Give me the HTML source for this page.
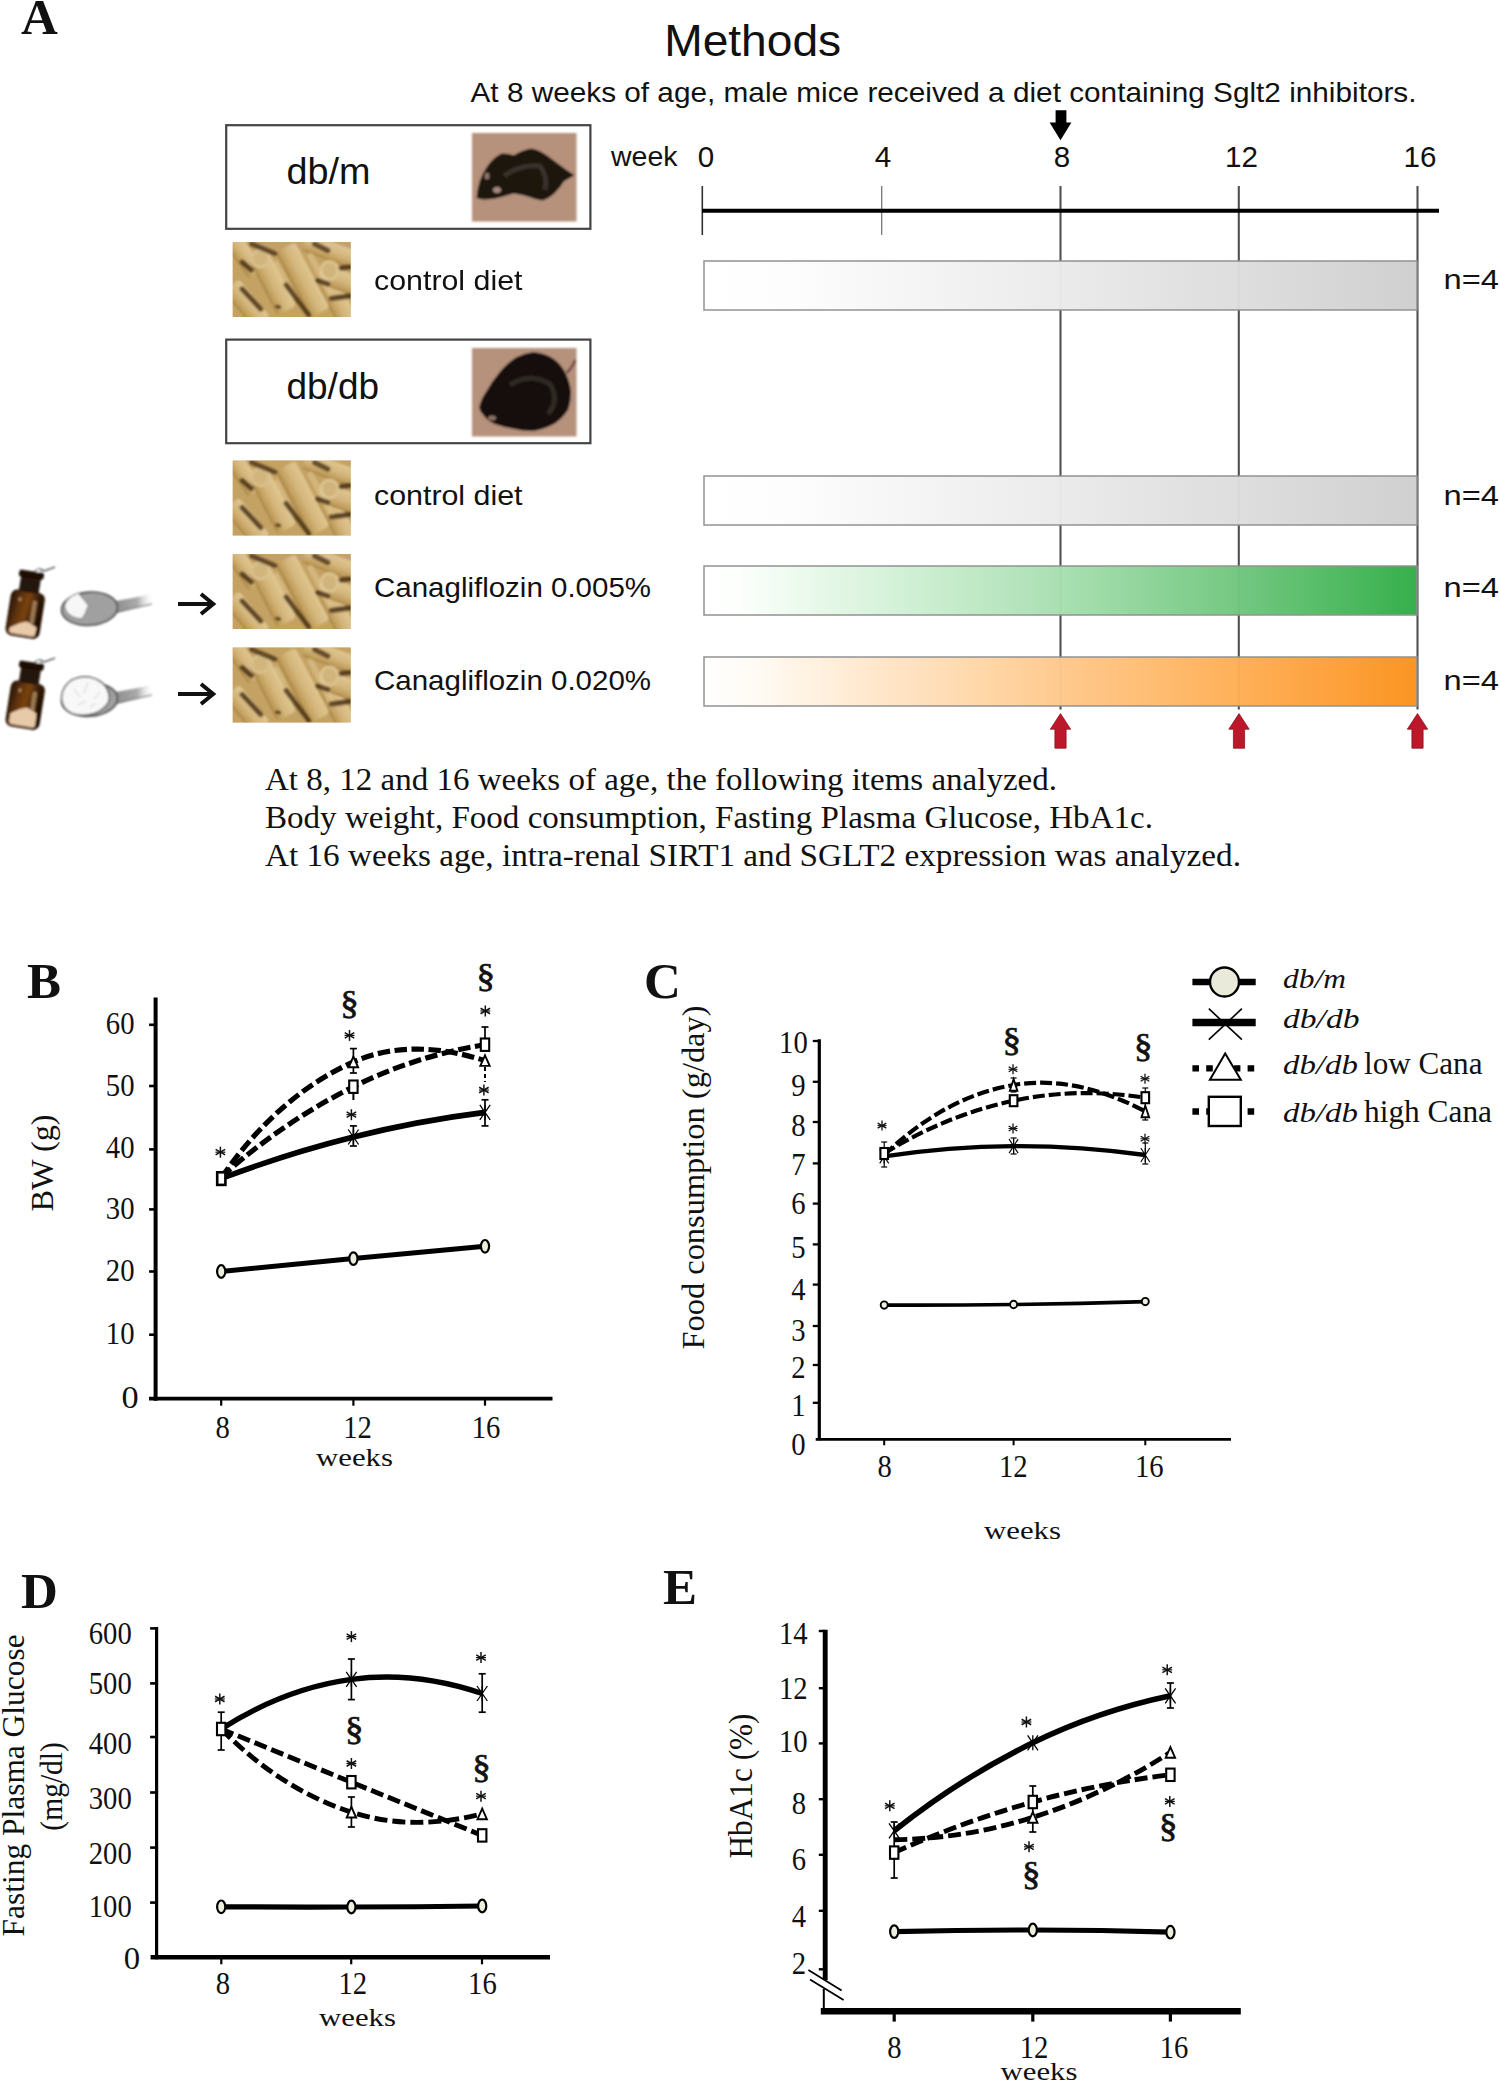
<!DOCTYPE html>
<html><head><meta charset="utf-8"><title>Figure</title>
<style>html,body{margin:0;padding:0;background:#fff;}body{width:1500px;height:2082px;overflow:hidden;font-family:"Liberation Serif",serif;}svg{display:block;}</style>
</head><body>
<svg width="1500" height="2082" viewBox="0 0 1500 2082">
<defs>
<linearGradient id="gGray" x1="0" x2="1" y1="0" y2="0"><stop offset="0" stop-color="#ffffff"/><stop offset="0.12" stop-color="#fdfdfd"/><stop offset="0.5" stop-color="#ebebeb"/><stop offset="1" stop-color="#cfcfcf"/></linearGradient>
<linearGradient id="gGreen" x1="0" x2="1" y1="0" y2="0"><stop offset="0" stop-color="#ffffff"/><stop offset="0.05" stop-color="#fcfffc"/><stop offset="0.25" stop-color="#d6f3da"/><stop offset="0.5" stop-color="#a8dfb0"/><stop offset="0.75" stop-color="#70c77e"/><stop offset="1" stop-color="#30ad46"/></linearGradient>
<linearGradient id="gOrange" x1="0" x2="1" y1="0" y2="0"><stop offset="0" stop-color="#ffffff"/><stop offset="0.08" stop-color="#fffaf2"/><stop offset="0.25" stop-color="#ffe6c8"/><stop offset="0.5" stop-color="#ffc98c"/><stop offset="0.75" stop-color="#ffae54"/><stop offset="1" stop-color="#fb921c"/></linearGradient>
<linearGradient id="gBottle" x1="0" x2="1" y1="0" y2="0.2"><stop offset="0" stop-color="#231105"/><stop offset="0.3" stop-color="#5c310a"/><stop offset="0.55" stop-color="#7a4411"/><stop offset="0.8" stop-color="#3c1f08"/><stop offset="1" stop-color="#1e0f04"/></linearGradient>
<linearGradient id="gHandle" x1="0" x2="1" y1="0" y2="0"><stop offset="0" stop-color="#8a8a8a"/><stop offset="0.6" stop-color="#aaaaaa"/><stop offset="1" stop-color="#ffffff" stop-opacity="0"/></linearGradient>
<linearGradient id="gPel" x1="0" x2="0" y1="0" y2="1"><stop offset="0" stop-color="#e0c690"/><stop offset="0.5" stop-color="#d4b67c"/><stop offset="0.88" stop-color="#bf9c5a"/><stop offset="1" stop-color="#a07c3c"/></linearGradient>
<filter id="blur1" x="-5%" y="-5%" width="110%" height="110%"><feGaussianBlur stdDeviation="1.3"/></filter>
<filter id="blur2" x="-10%" y="-10%" width="120%" height="120%"><feGaussianBlur stdDeviation="0.8"/></filter>
<clipPath id="pelclip"><rect x="0" y="0" width="118" height="75"/></clipPath>
<g id="pellets">
 <g clip-path="url(#pelclip)">
 <rect x="0" y="0" width="118" height="75" fill="#c2a062"/>
 <g filter="url(#blur1)">
  <rect x="-10" y="-10" width="140" height="95" fill="#c4a264"/>
  <g transform="translate(10,12) rotate(55)"><rect x="-24" y="-9" width="48" height="18" rx="4" fill="url(#gPel)"/></g>
  <g transform="translate(104,58) rotate(62)"><rect x="-30" y="-10" width="60" height="20" rx="4" fill="url(#gPel)"/></g>
  <g transform="translate(100,10) rotate(20)"><rect x="-30" y="-9" width="60" height="18" rx="4" fill="url(#gPel)"/></g>
  <g transform="translate(14,62) rotate(50)"><rect x="-24" y="-10" width="48" height="20" rx="4" fill="url(#gPel)"/></g>
  
  
  <g transform="translate(40,41) rotate(63)"><rect x="-31" y="-10.5" width="62" height="21" rx="4" fill="url(#gPel)"/></g>
  <path d="M9.5,47 L28,67" stroke="#4a2e10" stroke-width="3.6" fill="none" opacity="0.25"/>
  <path d="M9.5,20 L18.5,28" stroke="#4a2e10" stroke-width="4" fill="none" opacity="0.25"/>
  <g transform="translate(70,38) rotate(62)"><rect x="-37" y="-11" width="74" height="22" rx="4" fill="url(#gPel)"/></g>
  <path d="M53.5,43 L76,73" stroke="#4a2e10" stroke-width="3.6" fill="none" opacity="0.25"/>
  <path d="M42.8,64 L48,65.5" stroke="#4a2e10" stroke-width="3.5" fill="none" opacity="0.8"/>
  <ellipse cx="27.5" cy="16.7" rx="10" ry="10" fill="#d9c08c"/>
  <ellipse cx="27.5" cy="16.7" rx="7" ry="7" fill="#d2b57c"/>
  <g transform="translate(112,40) rotate(20)"><rect x="-16" y="-10" width="40" height="20" rx="4" fill="url(#gPel)"/></g>
  <ellipse cx="96.8" cy="28.4" rx="10" ry="10.5" fill="#dcc38f"/>
  <ellipse cx="96.8" cy="28.4" rx="7" ry="7.5" fill="#d0b47c"/>
  <path d="M85,38 L95,41.5" stroke="#4a2e10" stroke-width="3.6" fill="none" opacity="0.25"/>
  <path d="M108.5,25.7 L117,24.8" stroke="#4a2e10" stroke-width="3.6" fill="none" opacity="0.25"/>
  <path d="M98.6,56 L117,53.6" stroke="#4a2e10" stroke-width="4" fill="none" opacity="0.25"/>
  
  <path d="M44,22 L60,54 M78,14 L100,56" stroke="#e6cf9c" stroke-width="6" stroke-linecap="round" fill="none" opacity="0.45"/>
  <path d="M19,2 L42,11.5 M82,2 L95,8.5 M9.5,20 L18.5,28 M9.5,47 L28,67 M53.5,43 L76,73 M85,38.5 L95,42 M108.5,26 L117,25 M98.6,56.5 L117,54" stroke="#3a220a" stroke-width="5.4" stroke-linecap="round" fill="none" opacity="0.7"/>
 </g>
 </g>
</g>
<g id="bottle">
  <g transform="rotate(9)">
   <rect x="-10" y="-39" width="20" height="18" rx="2" fill="#24130a"/>
   <rect x="-12.5" y="-43.5" width="25" height="7" rx="2.5" fill="#1a0d06"/>
   <rect x="-16.5" y="-22.5" width="33" height="45" rx="6" fill="url(#gBottle)"/>
   <rect x="-16.5" y="-22.5" width="33" height="45" rx="6" fill="none" stroke="#2a1406" stroke-width="1.5"/>
   <rect x="5.5" y="-15" width="4.5" height="24" rx="2" fill="#e2bd8c" opacity="0.55"/>
   <rect x="-9" y="-16" width="3" height="4" rx="1.5" fill="#e2bd8c" opacity="0.6"/>
  </g>
</g>
<g id="redarrow"><path d="M0,0 L10.2,15.6 L5.6,15.6 L5.6,34.6 L-5.6,34.6 L-5.6,15.6 L-10.2,15.6 Z" fill="#bd172b" stroke="#8e1422" stroke-width="0.8"/></g>
</defs>
<rect width="1500" height="2082" fill="#fff"/>
<text transform="translate(21.00,33.50)" font-family='"Liberation Serif", serif' font-size="51" font-weight="bold" font-style="normal" text-anchor="start" fill="#111" >A</text>
<text transform="translate(664.20,55.50)" font-family='"Liberation Sans", sans-serif' font-size="44.5" font-weight="normal" font-style="normal" text-anchor="start" fill="#111" textLength="177" lengthAdjust="spacingAndGlyphs">Methods</text>
<text transform="translate(470.50,102.00)" font-family='"Liberation Sans", sans-serif' font-size="27.6" font-weight="normal" font-style="normal" text-anchor="start" fill="#111" textLength="946" lengthAdjust="spacingAndGlyphs">At 8 weeks of age, male mice received a diet containing Sglt2 inhibitors.</text>
<rect x="226.2" y="125.2" width="364.2" height="103.6" fill="#fff" stroke="#444" stroke-width="2.2"/>
<text transform="translate(286.50,184.40)" font-family='"Liberation Sans", sans-serif' font-size="36.5" font-weight="normal" font-style="normal" text-anchor="start" fill="#111" textLength="84" lengthAdjust="spacingAndGlyphs">db/m</text>
<rect x="226.2" y="339.6" width="364.2" height="103.6" fill="#fff" stroke="#444" stroke-width="2.2"/>
<text transform="translate(286.50,398.80)" font-family='"Liberation Sans", sans-serif' font-size="36.5" font-weight="normal" font-style="normal" text-anchor="start" fill="#111" textLength="92.5" lengthAdjust="spacingAndGlyphs">db/db</text>
<g filter="url(#blur1)">
<rect x="472" y="133" width="104.5" height="88.5" fill="#b6917b"/>
<path d="M476.5,197.8 Q478,180 486,168.3 Q492,158 501.6,153.6 Q508,153 513.7,155.3 Q522,150 531,148.4 Q540,150 546.7,155.3 L566.6,170 L574.4,175.3 L564,181.3 Q560,188 555.3,192.6 Q549,199 542.3,200.4 Q535,199.5 529.3,197 Q521,194 513.7,193.5 Q507,195 501.6,197 Q494,199 486,199.5 Q480,200 476.5,197.8 Z" fill="#1b1511"/>
<path d="M504,176 Q520,164 540,166 Q548,176 545,190" stroke="#3e3833" stroke-width="5" fill="none" opacity="0.8"/>
<ellipse cx="497" cy="190" rx="4" ry="3" fill="#c9a69a" opacity="0.8"/>
<ellipse cx="487" cy="176" rx="2.5" ry="3.5" fill="#a88a7c" opacity="0.8"/>
<rect x="472" y="348" width="104.5" height="88.5" fill="#b6917b"/>
<path d="M566.6,373 Q572,368 575.3,360" stroke="#6a4a40" stroke-width="2.5" fill="none"/>
<path d="M479.1,407.6 Q481,399 486,392 Q492,381 499,372.9 Q507,363 516.3,357.3 Q525,353 533.7,352.1 Q543,353 551,357.3 Q559,362 564,370.3 Q570,381 571,392 Q571,401 568.3,409.3 Q563,418 555.3,423.2 Q545,429 533.7,431 Q522,431 512,428.4 Q503,427 494.7,424 Q488,421 484.3,416.3 Q480,412 479.1,407.6 Z" fill="#15110d"/>
<path d="M510,385 Q530,372 550,384 Q560,400 548,414" stroke="#34302b" stroke-width="5" fill="none" opacity="0.8"/>
<ellipse cx="492" cy="418" rx="4" ry="2.5" fill="#c09a88" opacity="0.7"/>
</g>
<use href="#pellets" x="232.7" y="242"/>
<use href="#pellets" x="232.7" y="460.5"/>
<use href="#pellets" x="232.7" y="554"/>
<use href="#pellets" x="232.7" y="647.5"/>
<text transform="translate(374.00,290.00)" font-family='"Liberation Sans", sans-serif' font-size="28.3" font-weight="normal" font-style="normal" text-anchor="start" fill="#111" textLength="148.5" lengthAdjust="spacingAndGlyphs">control diet</text>
<text transform="translate(374.00,505.00)" font-family='"Liberation Sans", sans-serif' font-size="28.3" font-weight="normal" font-style="normal" text-anchor="start" fill="#111" textLength="148.5" lengthAdjust="spacingAndGlyphs">control diet</text>
<text transform="translate(374.00,597.00)" font-family='"Liberation Sans", sans-serif' font-size="28.3" font-weight="normal" font-style="normal" text-anchor="start" fill="#111" textLength="277" lengthAdjust="spacingAndGlyphs">Canagliflozin 0.005%</text>
<text transform="translate(374.00,690.00)" font-family='"Liberation Sans", sans-serif' font-size="28.3" font-weight="normal" font-style="normal" text-anchor="start" fill="#111" textLength="277" lengthAdjust="spacingAndGlyphs">Canagliflozin 0.020%</text>
<g transform="translate(0,0)">
<g filter="url(#blur2)">
<path d="M33,574 Q38,566 44,571 Q50,569 55,567" stroke="#666" stroke-width="1.6" fill="none"/>
<circle cx="38.5" cy="571.5" r="2.6" fill="#fff" stroke="#777" stroke-width="1"/>
<use href="#bottle" x="25.2" y="614.2"/>
<path d="M10.5,627 L20,623 L27,621.5 L36.5,627.5 L35.2,634 Q34.6,637 31.5,636.6 L11.5,633 Q8.8,632.4 9.2,629.5 Z" fill="#e8c9a8"/>
<path d="M112,601.5 Q130,599 153,593.5 L154,603.5 Q132,608.5 114,613 Z" fill="url(#gHandle)"/>
<path d="M114,613 Q132,608.5 152,603.8" stroke="#555" stroke-width="1.3" fill="none" opacity="0.7"/>
<ellipse cx="89.5" cy="608.7" rx="28" ry="16.5" transform="rotate(-4 89.5 608.7)" fill="#a0a0a0" stroke="#555" stroke-width="1.8"/>
<path d="M64.6,606 Q66,598 78.2,592.9 L88.4,605.3 Q86,614 81.6,618.9 Q76,618.5 72.5,616.7 Q65,612 64.6,606 Z" fill="#f7f7f7" stroke="#777" stroke-width="1"/>
</g>
<line x1="178.00" y1="604.00" x2="211.50" y2="604.00" stroke="#111" stroke-width="4" />
<path d="M201,594 L213.2,604 L201,614" fill="none" stroke="#111" stroke-width="4"/>
</g>
<g transform="translate(0,91)">
<g filter="url(#blur2)">
<path d="M33,574 Q38,566 44,571 Q50,569 55,567" stroke="#666" stroke-width="1.6" fill="none"/>
<circle cx="38.5" cy="571.5" r="2.6" fill="#fff" stroke="#777" stroke-width="1"/>
<use href="#bottle" x="25.2" y="614.2"/>
<path d="M10.5,622 L20,618 L27,616.5 L36.5,622.5 L35.2,634 Q34.6,637 31.5,636.6 L11.5,633 Q8.8,632.4 9.2,629.5 Z" fill="#e8c9a8"/>
<path d="M112,601.5 Q130,599 153,593.5 L154,603.5 Q132,608.5 114,613 Z" fill="url(#gHandle)"/>
<path d="M114,613 Q132,608.5 152,603.8" stroke="#555" stroke-width="1.3" fill="none" opacity="0.7"/>
<ellipse cx="89.5" cy="608.7" rx="28" ry="16.5" transform="rotate(-4 89.5 608.7)" fill="#a0a0a0" stroke="#555" stroke-width="1.8"/>
<path d="M61.5,607 Q62,596 71,589.5 Q80,584.5 89,586 Q100,588 106,596 Q111,604 108.5,611 Q104,619 94,622.5 Q82,626 72,622.5 Q62,618 61.5,607 Z" fill="#f8f8f8" stroke="#5a5a5a" stroke-width="1.5"/>
<path d="M74,598 L80,606 M88,592 L84,602 M94,608 L100,601 M78,614 L86,610 M90,616 L95,613" stroke="#cfcfcf" stroke-width="1" fill="none"/>
</g>
<line x1="178.00" y1="603.00" x2="211.50" y2="603.00" stroke="#111" stroke-width="4" />
<path d="M201,593 L213.2,603 L201,613" fill="none" stroke="#111" stroke-width="4"/>
</g>
<text transform="translate(611.00,166.00)" font-family='"Liberation Sans", sans-serif' font-size="28.3" font-weight="normal" font-style="normal" text-anchor="start" fill="#111" textLength="66.5" lengthAdjust="spacingAndGlyphs">week</text>
<text transform="translate(706.00,166.80)" font-family='"Liberation Sans", sans-serif' font-size="29.6" font-weight="normal" font-style="normal" text-anchor="middle" fill="#111" >0</text>
<text transform="translate(883.00,166.80)" font-family='"Liberation Sans", sans-serif' font-size="29.6" font-weight="normal" font-style="normal" text-anchor="middle" fill="#111" >4</text>
<text transform="translate(1062.00,166.80)" font-family='"Liberation Sans", sans-serif' font-size="29.6" font-weight="normal" font-style="normal" text-anchor="middle" fill="#111" >8</text>
<text transform="translate(1241.50,166.80)" font-family='"Liberation Sans", sans-serif' font-size="29.6" font-weight="normal" font-style="normal" text-anchor="middle" fill="#111" >12</text>
<text transform="translate(1420.00,166.80)" font-family='"Liberation Sans", sans-serif' font-size="29.6" font-weight="normal" font-style="normal" text-anchor="middle" fill="#111" >16</text>
<line x1="702.30" y1="186.00" x2="702.30" y2="235.00" stroke="#333" stroke-width="1.6" />
<line x1="881.70" y1="186.00" x2="881.70" y2="235.00" stroke="#777" stroke-width="1.3" />
<line x1="1060.50" y1="186.00" x2="1060.50" y2="709.50" stroke="#505050" stroke-width="2.1" />
<line x1="1238.80" y1="186.00" x2="1238.80" y2="709.50" stroke="#505050" stroke-width="2.1" />
<line x1="1417.50" y1="186.00" x2="1417.50" y2="709.50" stroke="#505050" stroke-width="2.1" />
<line x1="702.00" y1="210.70" x2="1439.00" y2="210.70" stroke="#000" stroke-width="4" />
<rect x="704" y="261" width="713" height="49" fill="url(#gGray)" stroke="#8f8f8f" stroke-width="1.5" opacity="0.97"/>
<rect x="704" y="476" width="713" height="49" fill="url(#gGray)" stroke="#8f8f8f" stroke-width="1.5" opacity="0.97"/>
<rect x="704" y="566" width="713" height="49" fill="url(#gGreen)" stroke="#8f8f8f" stroke-width="1.5" opacity="0.97"/>
<rect x="704" y="657" width="713" height="49" fill="url(#gOrange)" stroke="#8f8f8f" stroke-width="1.5" opacity="0.97"/>
<text transform="translate(1443.50,289.00)" font-family='"Liberation Sans", sans-serif' font-size="27.3" font-weight="normal" font-style="normal" text-anchor="start" fill="#111" textLength="55.5" lengthAdjust="spacingAndGlyphs">n=4</text>
<text transform="translate(1443.50,505.00)" font-family='"Liberation Sans", sans-serif' font-size="27.3" font-weight="normal" font-style="normal" text-anchor="start" fill="#111" textLength="55.5" lengthAdjust="spacingAndGlyphs">n=4</text>
<text transform="translate(1443.50,597.00)" font-family='"Liberation Sans", sans-serif' font-size="27.3" font-weight="normal" font-style="normal" text-anchor="start" fill="#111" textLength="55.5" lengthAdjust="spacingAndGlyphs">n=4</text>
<text transform="translate(1443.50,690.00)" font-family='"Liberation Sans", sans-serif' font-size="27.3" font-weight="normal" font-style="normal" text-anchor="start" fill="#111" textLength="55.5" lengthAdjust="spacingAndGlyphs">n=4</text>
<path d="M1055.6,110.2 L1066.4,110.2 L1066.4,122.5 L1071.4,122.5 L1060.5,140.2 L1049.6,122.5 L1055.6,122.5 Z" fill="#000"/>
<use href="#redarrow" x="1060.5" y="713.6"/>
<use href="#redarrow" x="1239" y="713.6"/>
<use href="#redarrow" x="1417.5" y="713.6"/>
<text transform="translate(265.00,789.50)" font-family='"Liberation Serif", serif' font-size="30.5" font-weight="normal" font-style="normal" text-anchor="start" fill="#111" textLength="792" lengthAdjust="spacingAndGlyphs">At 8, 12 and 16 weeks of age, the following items analyzed.</text>
<text transform="translate(265.00,827.60)" font-family='"Liberation Serif", serif' font-size="30.5" font-weight="normal" font-style="normal" text-anchor="start" fill="#111" textLength="888" lengthAdjust="spacingAndGlyphs">Body weight, Food consumption, Fasting Plasma Glucose, HbA1c.</text>
<text transform="translate(265.00,865.60)" font-family='"Liberation Serif", serif' font-size="30.5" font-weight="normal" font-style="normal" text-anchor="start" fill="#111" textLength="976" lengthAdjust="spacingAndGlyphs">At 16 weeks age, intra-renal SIRT1 and SGLT2 expression was analyzed.</text>
<text transform="translate(27.00,998.00)" font-family='"Liberation Serif", serif' font-size="51" font-weight="bold" font-style="normal" text-anchor="start" fill="#111" >B</text>
<line x1="155.60" y1="997.50" x2="155.60" y2="1400.70" stroke="#000" stroke-width="4" />
<line x1="149.00" y1="1398.70" x2="552.50" y2="1398.70" stroke="#000" stroke-width="3.8" />
<line x1="149.10" y1="1024.80" x2="155.60" y2="1024.80" stroke="#000" stroke-width="2.6" />
<text transform="translate(134.50,1033.65) scale(0.92,1)" font-family='"Liberation Serif", serif' font-size="31.2" font-weight="normal" font-style="normal" text-anchor="end" fill="#111" >60</text>
<line x1="149.10" y1="1086.00" x2="155.60" y2="1086.00" stroke="#000" stroke-width="2.6" />
<text transform="translate(134.50,1095.85) scale(0.92,1)" font-family='"Liberation Serif", serif' font-size="31.2" font-weight="normal" font-style="normal" text-anchor="end" fill="#111" >50</text>
<line x1="149.10" y1="1149.40" x2="155.60" y2="1149.40" stroke="#000" stroke-width="2.6" />
<text transform="translate(134.50,1158.15) scale(0.92,1)" font-family='"Liberation Serif", serif' font-size="31.2" font-weight="normal" font-style="normal" text-anchor="end" fill="#111" >40</text>
<line x1="149.10" y1="1209.40" x2="155.60" y2="1209.40" stroke="#000" stroke-width="2.6" />
<text transform="translate(134.50,1219.05) scale(0.92,1)" font-family='"Liberation Serif", serif' font-size="31.2" font-weight="normal" font-style="normal" text-anchor="end" fill="#111" >30</text>
<line x1="149.10" y1="1271.50" x2="155.60" y2="1271.50" stroke="#000" stroke-width="2.6" />
<text transform="translate(134.50,1281.05) scale(0.92,1)" font-family='"Liberation Serif", serif' font-size="31.2" font-weight="normal" font-style="normal" text-anchor="end" fill="#111" >20</text>
<line x1="149.10" y1="1334.70" x2="155.60" y2="1334.70" stroke="#000" stroke-width="2.6" />
<text transform="translate(134.50,1344.25) scale(0.92,1)" font-family='"Liberation Serif", serif' font-size="31.2" font-weight="normal" font-style="normal" text-anchor="end" fill="#111" >10</text>
<text transform="translate(138.60,1407.85) scale(1.1,1)" font-family='"Liberation Serif", serif' font-size="31.2" font-weight="normal" font-style="normal" text-anchor="end" fill="#111" >0</text>
<line x1="221.20" y1="1398.70" x2="221.20" y2="1405.70" stroke="#000" stroke-width="2.2" />
<line x1="353.40" y1="1398.70" x2="353.40" y2="1405.70" stroke="#000" stroke-width="2.2" />
<line x1="485.00" y1="1398.70" x2="485.00" y2="1405.70" stroke="#000" stroke-width="2.2" />
<text transform="translate(222.70,1438.00) scale(0.92,1)" font-family='"Liberation Serif", serif' font-size="31.2" font-weight="normal" font-style="normal" text-anchor="middle" fill="#111" >8</text>
<text transform="translate(357.50,1438.00) scale(0.92,1)" font-family='"Liberation Serif", serif' font-size="31.2" font-weight="normal" font-style="normal" text-anchor="middle" fill="#111" >12</text>
<text transform="translate(486.00,1438.00) scale(0.92,1)" font-family='"Liberation Serif", serif' font-size="31.2" font-weight="normal" font-style="normal" text-anchor="middle" fill="#111" >16</text>
<text transform="translate(316.00,1466.00) scale(1,0.9)" font-family='"Liberation Serif", serif' font-size="29" font-weight="normal" font-style="normal" text-anchor="start" fill="#111" textLength="77" lengthAdjust="spacingAndGlyphs">weeks</text>
<text transform="translate(53.00,1163.00) rotate(-90)" font-family='"Liberation Serif", serif' font-size="32.3" font-weight="normal" font-style="normal" text-anchor="middle" fill="#111" >BW (g)</text>
<path d="M221.20,1178.00 Q277.95,1095.58 353.40,1062.00 Q409.85,1036.88 485.00,1060.60" fill="none" stroke="#000" stroke-width="5.2" stroke-dasharray="12.5 4.5" stroke-linecap="butt"/>
<path d="M221.20,1177.00 Q282.59,1122.21 353.40,1086.70 Q414.49,1056.06 485.00,1044.70" fill="none" stroke="#000" stroke-width="5.2" stroke-dasharray="12.5 4.5" stroke-linecap="butt"/>
<path d="M221.20,1178.50 Q286.32,1153.81 353.40,1137.00 Q418.22,1120.76 485.00,1112.40" fill="none" stroke="#000" stroke-width="5.6"  stroke-linecap="butt"/>
<path d="M221.20,1271.50 Q287.29,1264.92 353.40,1258.60 Q419.19,1252.32 485.00,1246.30" fill="none" stroke="#000" stroke-width="5.0"  stroke-linecap="butt"/>
<line x1="353.40" y1="1048.60" x2="353.40" y2="1073.00" stroke="#000" stroke-width="1.7" />
<line x1="349.90" y1="1048.60" x2="356.90" y2="1048.60" stroke="#000" stroke-width="1.7" />
<line x1="349.90" y1="1073.00" x2="356.90" y2="1073.00" stroke="#000" stroke-width="1.7" />
<line x1="353.40" y1="1125.90" x2="353.40" y2="1146.00" stroke="#000" stroke-width="1.7" />
<line x1="349.90" y1="1125.90" x2="356.90" y2="1125.90" stroke="#000" stroke-width="1.7" />
<line x1="349.90" y1="1146.00" x2="356.90" y2="1146.00" stroke="#000" stroke-width="1.7" />
<line x1="485.00" y1="1027.00" x2="485.00" y2="1044.00" stroke="#000" stroke-width="1.7" />
<line x1="481.50" y1="1027.00" x2="488.50" y2="1027.00" stroke="#000" stroke-width="1.7" />
<line x1="481.50" y1="1044.00" x2="488.50" y2="1044.00" stroke="#000" stroke-width="1.7" />
<line x1="485.00" y1="1099.80" x2="485.00" y2="1125.90" stroke="#000" stroke-width="1.7" />
<line x1="481.50" y1="1099.80" x2="488.50" y2="1099.80" stroke="#000" stroke-width="1.7" />
<line x1="481.50" y1="1125.90" x2="488.50" y2="1125.90" stroke="#000" stroke-width="1.7" />
<line x1="353.40" y1="1093.00" x2="353.40" y2="1100.00" stroke="#000" stroke-width="2" />
<line x1="485.00" y1="1067.00" x2="485.00" y2="1082.00" stroke="#000" stroke-width="2" stroke-dasharray="4 3"/>
<ellipse cx="221.20" cy="1271.50" rx="4.1" ry="6.3" fill="#eeeedd" stroke="#000" stroke-width="2.2"/>
<ellipse cx="353.40" cy="1258.60" rx="4.1" ry="6.3" fill="#eeeedd" stroke="#000" stroke-width="2.2"/>
<ellipse cx="485.00" cy="1246.30" rx="4.1" ry="6.3" fill="#eeeedd" stroke="#000" stroke-width="2.2"/>
<line x1="348.20" y1="1129.50" x2="358.60" y2="1144.50" stroke="#000" stroke-width="1.3" />
<line x1="348.20" y1="1144.50" x2="358.60" y2="1129.50" stroke="#000" stroke-width="1.3" />
<line x1="353.40" y1="1129.50" x2="353.40" y2="1144.50" stroke="#000" stroke-width="1.3" />
<line x1="479.80" y1="1104.90" x2="490.20" y2="1119.90" stroke="#000" stroke-width="1.3" />
<line x1="479.80" y1="1119.90" x2="490.20" y2="1104.90" stroke="#000" stroke-width="1.3" />
<line x1="485.00" y1="1104.90" x2="485.00" y2="1119.90" stroke="#000" stroke-width="1.3" />
<path d="M353.40,1056.70 L358.10,1067.30 L348.70,1067.30 Z" fill="#fff" stroke="#000" stroke-width="1.9"/>
<path d="M485.00,1055.30 L489.70,1065.90 L480.30,1065.90 Z" fill="#fff" stroke="#000" stroke-width="1.9"/>
<rect x="217.20" y="1172.30" width="8.2" height="12.6" fill="#fff" stroke="#000" stroke-width="2.6"/>
<rect x="349.20" y="1080.50" width="8.4" height="12.4" fill="#fff" stroke="#000" stroke-width="2.1"/>
<rect x="480.80" y="1038.50" width="8.4" height="12.4" fill="#fff" stroke="#000" stroke-width="2.1"/>
<line x1="220.40" y1="1146.70" x2="220.40" y2="1157.70" stroke="#111" stroke-width="1.5" />
<line x1="215.64" y1="1149.45" x2="225.16" y2="1154.95" stroke="#111" stroke-width="1.5" />
<line x1="225.16" y1="1149.45" x2="215.64" y2="1154.95" stroke="#111" stroke-width="1.5" />
<line x1="215.45" y1="1152.20" x2="225.35" y2="1152.20" stroke="#111" stroke-width="1.2000000000000002" />
<line x1="349.50" y1="1029.90" x2="349.50" y2="1040.90" stroke="#111" stroke-width="1.5" />
<line x1="344.74" y1="1032.65" x2="354.26" y2="1038.15" stroke="#111" stroke-width="1.5" />
<line x1="354.26" y1="1032.65" x2="344.74" y2="1038.15" stroke="#111" stroke-width="1.5" />
<line x1="344.55" y1="1035.40" x2="354.45" y2="1035.40" stroke="#111" stroke-width="1.2000000000000002" />
<line x1="351.40" y1="1109.20" x2="351.40" y2="1120.20" stroke="#111" stroke-width="1.5" />
<line x1="346.64" y1="1111.95" x2="356.16" y2="1117.45" stroke="#111" stroke-width="1.5" />
<line x1="356.16" y1="1111.95" x2="346.64" y2="1117.45" stroke="#111" stroke-width="1.5" />
<line x1="346.45" y1="1114.70" x2="356.35" y2="1114.70" stroke="#111" stroke-width="1.2000000000000002" />
<line x1="485.30" y1="1005.50" x2="485.30" y2="1016.50" stroke="#111" stroke-width="1.5" />
<line x1="480.54" y1="1008.25" x2="490.06" y2="1013.75" stroke="#111" stroke-width="1.5" />
<line x1="490.06" y1="1008.25" x2="480.54" y2="1013.75" stroke="#111" stroke-width="1.5" />
<line x1="480.35" y1="1011.00" x2="490.25" y2="1011.00" stroke="#111" stroke-width="1.2000000000000002" />
<line x1="483.90" y1="1084.50" x2="483.90" y2="1095.50" stroke="#111" stroke-width="1.5" />
<line x1="479.14" y1="1087.25" x2="488.66" y2="1092.75" stroke="#111" stroke-width="1.5" />
<line x1="488.66" y1="1087.25" x2="479.14" y2="1092.75" stroke="#111" stroke-width="1.5" />
<line x1="478.95" y1="1090.00" x2="488.85" y2="1090.00" stroke="#111" stroke-width="1.2000000000000002" />
<text transform="translate(349.50,1013.95) scale(1.12,1)" font-family='"Liberation Serif", serif' font-size="33" font-weight="normal" font-style="normal" text-anchor="middle" fill="#111" stroke="#111" stroke-width="0.7">§</text>
<text transform="translate(485.80,987.35) scale(1.12,1)" font-family='"Liberation Serif", serif' font-size="33" font-weight="normal" font-style="normal" text-anchor="middle" fill="#111" stroke="#111" stroke-width="0.7">§</text>
<text transform="translate(644.00,997.50)" font-family='"Liberation Serif", serif' font-size="51" font-weight="bold" font-style="normal" text-anchor="start" fill="#111" >C</text>
<line x1="819.30" y1="1039.20" x2="819.30" y2="1440.30" stroke="#000" stroke-width="3.2" />
<line x1="815.70" y1="1439.30" x2="1231.00" y2="1439.30" stroke="#000" stroke-width="2.8" />
<line x1="812.80" y1="1041.00" x2="819.30" y2="1041.00" stroke="#000" stroke-width="2.3" />
<line x1="812.80" y1="1081.80" x2="819.30" y2="1081.80" stroke="#000" stroke-width="2.3" />
<line x1="812.80" y1="1122.00" x2="819.30" y2="1122.00" stroke="#000" stroke-width="2.3" />
<line x1="812.80" y1="1163.40" x2="819.30" y2="1163.40" stroke="#000" stroke-width="2.3" />
<line x1="812.80" y1="1203.60" x2="819.30" y2="1203.60" stroke="#000" stroke-width="2.3" />
<line x1="812.80" y1="1244.40" x2="819.30" y2="1244.40" stroke="#000" stroke-width="2.3" />
<line x1="812.80" y1="1284.60" x2="819.30" y2="1284.60" stroke="#000" stroke-width="2.3" />
<line x1="812.80" y1="1326.00" x2="819.30" y2="1326.00" stroke="#000" stroke-width="2.3" />
<line x1="812.80" y1="1365.00" x2="819.30" y2="1365.00" stroke="#000" stroke-width="2.3" />
<line x1="812.80" y1="1402.80" x2="819.30" y2="1402.80" stroke="#000" stroke-width="2.3" />
<text transform="translate(807.80,1052.75) scale(0.92,1)" font-family='"Liberation Serif", serif' font-size="31.2" font-weight="normal" font-style="normal" text-anchor="end" fill="#111" >10</text>
<text transform="translate(805.50,1095.55) scale(0.92,1)" font-family='"Liberation Serif", serif' font-size="31.2" font-weight="normal" font-style="normal" text-anchor="end" fill="#111" >9</text>
<text transform="translate(805.50,1135.85) scale(0.92,1)" font-family='"Liberation Serif", serif' font-size="31.2" font-weight="normal" font-style="normal" text-anchor="end" fill="#111" >8</text>
<text transform="translate(805.50,1175.15) scale(0.92,1)" font-family='"Liberation Serif", serif' font-size="31.2" font-weight="normal" font-style="normal" text-anchor="end" fill="#111" >7</text>
<text transform="translate(805.50,1213.85) scale(0.92,1)" font-family='"Liberation Serif", serif' font-size="31.2" font-weight="normal" font-style="normal" text-anchor="end" fill="#111" >6</text>
<text transform="translate(805.50,1258.25) scale(0.92,1)" font-family='"Liberation Serif", serif' font-size="31.2" font-weight="normal" font-style="normal" text-anchor="end" fill="#111" >5</text>
<text transform="translate(805.50,1299.95) scale(0.92,1)" font-family='"Liberation Serif", serif' font-size="31.2" font-weight="normal" font-style="normal" text-anchor="end" fill="#111" >4</text>
<text transform="translate(805.50,1340.55) scale(0.92,1)" font-family='"Liberation Serif", serif' font-size="31.2" font-weight="normal" font-style="normal" text-anchor="end" fill="#111" >3</text>
<text transform="translate(805.50,1378.25) scale(0.92,1)" font-family='"Liberation Serif", serif' font-size="31.2" font-weight="normal" font-style="normal" text-anchor="end" fill="#111" >2</text>
<text transform="translate(805.50,1416.35) scale(0.92,1)" font-family='"Liberation Serif", serif' font-size="31.2" font-weight="normal" font-style="normal" text-anchor="end" fill="#111" >1</text>
<text transform="translate(805.50,1454.55) scale(0.92,1)" font-family='"Liberation Serif", serif' font-size="31.2" font-weight="normal" font-style="normal" text-anchor="end" fill="#111" >0</text>
<line x1="884.20" y1="1439.30" x2="884.20" y2="1445.30" stroke="#000" stroke-width="2" />
<line x1="1013.60" y1="1439.30" x2="1013.60" y2="1445.30" stroke="#000" stroke-width="2" />
<line x1="1145.30" y1="1439.30" x2="1145.30" y2="1445.30" stroke="#000" stroke-width="2" />
<text transform="translate(884.70,1477.00) scale(0.92,1)" font-family='"Liberation Serif", serif' font-size="31.2" font-weight="normal" font-style="normal" text-anchor="middle" fill="#111" >8</text>
<text transform="translate(1013.30,1477.00) scale(0.92,1)" font-family='"Liberation Serif", serif' font-size="31.2" font-weight="normal" font-style="normal" text-anchor="middle" fill="#111" >12</text>
<text transform="translate(1149.30,1477.00) scale(0.92,1)" font-family='"Liberation Serif", serif' font-size="31.2" font-weight="normal" font-style="normal" text-anchor="middle" fill="#111" >16</text>
<text transform="translate(984.00,1538.50) scale(1,0.9)" font-family='"Liberation Serif", serif' font-size="29" font-weight="normal" font-style="normal" text-anchor="start" fill="#111" textLength="77" lengthAdjust="spacingAndGlyphs">weeks</text>
<text transform="translate(703.80,1177.50) rotate(-90)" font-family='"Liberation Serif", serif' font-size="32.3" font-weight="normal" font-style="normal" text-anchor="middle" fill="#111" textLength="344" lengthAdjust="spacingAndGlyphs">Food consumption (g/day)</text>
<path d="M884.20,1155.00 Q945.36,1096.37 1013.60,1085.00 Q1075.91,1074.62 1145.30,1111.50" fill="none" stroke="#000" stroke-width="4.2" stroke-dasharray="12 4" stroke-linecap="butt"/>
<path d="M884.20,1153.50 Q946.40,1115.06 1013.60,1100.70 Q1076.95,1087.16 1145.30,1097.70" fill="none" stroke="#000" stroke-width="4.2" stroke-dasharray="12 4" stroke-linecap="butt"/>
<path d="M884.20,1156.40 Q948.87,1146.45 1013.60,1146.10 Q1079.42,1145.75 1145.30,1155.00" fill="none" stroke="#000" stroke-width="4.4"  stroke-linecap="butt"/>
<path d="M884.20,1305.10 Q948.91,1305.37 1013.60,1304.50 Q1079.46,1303.62 1145.30,1301.60" fill="none" stroke="#000" stroke-width="3.6"  stroke-linecap="butt"/>
<line x1="1013.60" y1="1078.00" x2="1013.60" y2="1092.00" stroke="#000" stroke-width="1.2" />
<line x1="1010.60" y1="1078.00" x2="1016.60" y2="1078.00" stroke="#000" stroke-width="1.2" />
<line x1="1010.60" y1="1092.00" x2="1016.60" y2="1092.00" stroke="#000" stroke-width="1.2" />
<line x1="1013.60" y1="1138.00" x2="1013.60" y2="1154.00" stroke="#000" stroke-width="1.2" />
<line x1="1010.60" y1="1138.00" x2="1016.60" y2="1138.00" stroke="#000" stroke-width="1.2" />
<line x1="1010.60" y1="1154.00" x2="1016.60" y2="1154.00" stroke="#000" stroke-width="1.2" />
<line x1="1145.30" y1="1143.00" x2="1145.30" y2="1164.00" stroke="#000" stroke-width="1.2" />
<line x1="1142.30" y1="1143.00" x2="1148.30" y2="1143.00" stroke="#000" stroke-width="1.2" />
<line x1="1142.30" y1="1164.00" x2="1148.30" y2="1164.00" stroke="#000" stroke-width="1.2" />
<line x1="884.20" y1="1142.00" x2="884.20" y2="1167.00" stroke="#000" stroke-width="1.2" />
<line x1="881.20" y1="1142.00" x2="887.20" y2="1142.00" stroke="#000" stroke-width="1.2" />
<line x1="881.20" y1="1167.00" x2="887.20" y2="1167.00" stroke="#000" stroke-width="1.2" />
<line x1="1145.30" y1="1088.00" x2="1145.30" y2="1120.00" stroke="#000" stroke-width="1.2" />
<line x1="1142.30" y1="1088.00" x2="1148.30" y2="1088.00" stroke="#000" stroke-width="1.2" />
<line x1="1142.30" y1="1120.00" x2="1148.30" y2="1120.00" stroke="#000" stroke-width="1.2" />
<ellipse cx="884.20" cy="1305.10" rx="3.5" ry="3.7" fill="#eeeedd" stroke="#000" stroke-width="1.9"/>
<ellipse cx="1013.60" cy="1304.50" rx="3.5" ry="3.7" fill="#eeeedd" stroke="#000" stroke-width="1.9"/>
<ellipse cx="1145.30" cy="1301.60" rx="3.5" ry="3.7" fill="#eeeedd" stroke="#000" stroke-width="1.9"/>
<line x1="879.70" y1="1149.40" x2="888.70" y2="1163.40" stroke="#000" stroke-width="1.1" />
<line x1="879.70" y1="1163.40" x2="888.70" y2="1149.40" stroke="#000" stroke-width="1.1" />
<line x1="884.20" y1="1149.40" x2="884.20" y2="1163.40" stroke="#000" stroke-width="1.1" />
<line x1="1009.10" y1="1139.10" x2="1018.10" y2="1153.10" stroke="#000" stroke-width="1.1" />
<line x1="1009.10" y1="1153.10" x2="1018.10" y2="1139.10" stroke="#000" stroke-width="1.1" />
<line x1="1013.60" y1="1139.10" x2="1013.60" y2="1153.10" stroke="#000" stroke-width="1.1" />
<line x1="1140.80" y1="1148.00" x2="1149.80" y2="1162.00" stroke="#000" stroke-width="1.1" />
<line x1="1140.80" y1="1162.00" x2="1149.80" y2="1148.00" stroke="#000" stroke-width="1.1" />
<line x1="1145.30" y1="1148.00" x2="1145.30" y2="1162.00" stroke="#000" stroke-width="1.1" />
<path d="M1013.60,1079.20 L1017.40,1090.80 L1009.80,1090.80 Z" fill="#fff" stroke="#000" stroke-width="1.9"/>
<path d="M1145.30,1105.70 L1149.10,1117.30 L1141.50,1117.30 Z" fill="#fff" stroke="#000" stroke-width="1.9"/>
<rect x="880.40" y="1148.00" width="7.6" height="11.0" fill="#fff" stroke="#000" stroke-width="2.1"/>
<rect x="1009.80" y="1095.20" width="7.6" height="11.0" fill="#fff" stroke="#000" stroke-width="2.1"/>
<rect x="1141.50" y="1092.20" width="7.6" height="11.0" fill="#fff" stroke="#000" stroke-width="2.1"/>
<line x1="882.00" y1="1120.60" x2="882.00" y2="1130.60" stroke="#111" stroke-width="1.3" />
<line x1="877.67" y1="1123.10" x2="886.33" y2="1128.10" stroke="#111" stroke-width="1.3" />
<line x1="886.33" y1="1123.10" x2="877.67" y2="1128.10" stroke="#111" stroke-width="1.3" />
<line x1="877.50" y1="1125.60" x2="886.50" y2="1125.60" stroke="#111" stroke-width="1.04" />
<line x1="1013.00" y1="1064.30" x2="1013.00" y2="1074.30" stroke="#111" stroke-width="1.3" />
<line x1="1008.67" y1="1066.80" x2="1017.33" y2="1071.80" stroke="#111" stroke-width="1.3" />
<line x1="1017.33" y1="1066.80" x2="1008.67" y2="1071.80" stroke="#111" stroke-width="1.3" />
<line x1="1008.50" y1="1069.30" x2="1017.50" y2="1069.30" stroke="#111" stroke-width="1.04" />
<line x1="1013.00" y1="1123.50" x2="1013.00" y2="1133.50" stroke="#111" stroke-width="1.3" />
<line x1="1008.67" y1="1126.00" x2="1017.33" y2="1131.00" stroke="#111" stroke-width="1.3" />
<line x1="1017.33" y1="1126.00" x2="1008.67" y2="1131.00" stroke="#111" stroke-width="1.3" />
<line x1="1008.50" y1="1128.50" x2="1017.50" y2="1128.50" stroke="#111" stroke-width="1.04" />
<line x1="1145.00" y1="1073.70" x2="1145.00" y2="1083.70" stroke="#111" stroke-width="1.3" />
<line x1="1140.67" y1="1076.20" x2="1149.33" y2="1081.20" stroke="#111" stroke-width="1.3" />
<line x1="1149.33" y1="1076.20" x2="1140.67" y2="1081.20" stroke="#111" stroke-width="1.3" />
<line x1="1140.50" y1="1078.70" x2="1149.50" y2="1078.70" stroke="#111" stroke-width="1.04" />
<line x1="1145.00" y1="1133.80" x2="1145.00" y2="1143.80" stroke="#111" stroke-width="1.3" />
<line x1="1140.67" y1="1136.30" x2="1149.33" y2="1141.30" stroke="#111" stroke-width="1.3" />
<line x1="1149.33" y1="1136.30" x2="1140.67" y2="1141.30" stroke="#111" stroke-width="1.3" />
<line x1="1140.50" y1="1138.80" x2="1149.50" y2="1138.80" stroke="#111" stroke-width="1.04" />
<text transform="translate(1011.80,1050.74) scale(1.12,1)" font-family='"Liberation Serif", serif' font-size="33" font-weight="normal" font-style="normal" text-anchor="middle" fill="#111" stroke="#111" stroke-width="0.7">§</text>
<text transform="translate(1143.20,1056.64) scale(1.12,1)" font-family='"Liberation Serif", serif' font-size="33" font-weight="normal" font-style="normal" text-anchor="middle" fill="#111" stroke="#111" stroke-width="0.7">§</text>
<line x1="1192.40" y1="982.00" x2="1255.70" y2="982.00" stroke="#000" stroke-width="6.4" />
<circle cx="1224.5" cy="982" r="14.5" fill="#eaeadb" stroke="#000" stroke-width="2.4"/>
<line x1="1192.40" y1="1022.50" x2="1255.70" y2="1022.50" stroke="#000" stroke-width="7.4" />
<line x1="1208.80" y1="1008.70" x2="1241.90" y2="1039.60" stroke="#000" stroke-width="1.6" />
<line x1="1208.80" y1="1039.60" x2="1241.90" y2="1008.70" stroke="#000" stroke-width="1.6" />
<line x1="1192.40" y1="1068.40" x2="1255.70" y2="1068.40" stroke="#000" stroke-width="6.4" stroke-dasharray="6.6 7.2"/>
<path d="M1225.2,1053.5 L1240.8,1079.7 L1209.9,1079.7 Z" fill="#fff" stroke="#000" stroke-width="2"/>
<line x1="1192.40" y1="1111.50" x2="1255.70" y2="1111.50" stroke="#000" stroke-width="6.4" stroke-dasharray="6.6 7.2"/>
<rect x="1208.8" y="1096.8" width="32" height="29.2" fill="#fff" stroke="#000" stroke-width="2.4"/>
<text transform="translate(1283,988) scale(1,0.93)" font-family='"Liberation Serif", serif' font-size="30.5" font-style="italic" fill="#111" textLength="63" lengthAdjust="spacingAndGlyphs">db/m</text>
<text transform="translate(1283,1028) scale(1,0.93)" font-family='"Liberation Serif", serif' font-size="30.5" font-style="italic" fill="#111" textLength="76.5" lengthAdjust="spacingAndGlyphs">db/db</text>
<text transform="translate(1283,1073.7) scale(1,0.93)" font-family='"Liberation Serif", serif' font-size="30.5" font-style="italic" fill="#111" textLength="75" lengthAdjust="spacingAndGlyphs">db/db</text>
<text x="1364" y="1073.7" font-family='"Liberation Serif", serif' font-size="31" fill="#111" textLength="118.5" lengthAdjust="spacingAndGlyphs">low Cana</text>
<text transform="translate(1283,1121.7) scale(1,0.93)" font-family='"Liberation Serif", serif' font-size="30.5" font-style="italic" fill="#111" textLength="75" lengthAdjust="spacingAndGlyphs">db/db</text>
<text x="1364" y="1121.7" font-family='"Liberation Serif", serif' font-size="31" fill="#111" textLength="128" lengthAdjust="spacingAndGlyphs">high Cana</text>
<text transform="translate(21.00,1608.00)" font-family='"Liberation Serif", serif' font-size="51" font-weight="bold" font-style="normal" text-anchor="start" fill="#111" >D</text>
<line x1="156.60" y1="1627.00" x2="156.60" y2="1959.30" stroke="#000" stroke-width="3.2" />
<line x1="150.60" y1="1957.30" x2="550.00" y2="1957.30" stroke="#000" stroke-width="4.4" />
<line x1="150.10" y1="1628.40" x2="156.60" y2="1628.40" stroke="#000" stroke-width="2.6" />
<text transform="translate(131.80,1643.95) scale(0.92,1)" font-family='"Liberation Serif", serif' font-size="31.2" font-weight="normal" font-style="normal" text-anchor="end" fill="#111" >600</text>
<line x1="150.10" y1="1683.40" x2="156.60" y2="1683.40" stroke="#000" stroke-width="2.6" />
<text transform="translate(131.80,1694.05) scale(0.92,1)" font-family='"Liberation Serif", serif' font-size="31.2" font-weight="normal" font-style="normal" text-anchor="end" fill="#111" >500</text>
<line x1="150.10" y1="1737.00" x2="156.60" y2="1737.00" stroke="#000" stroke-width="2.6" />
<text transform="translate(131.80,1753.75) scale(0.92,1)" font-family='"Liberation Serif", serif' font-size="31.2" font-weight="normal" font-style="normal" text-anchor="end" fill="#111" >400</text>
<line x1="150.10" y1="1792.50" x2="156.60" y2="1792.50" stroke="#000" stroke-width="2.6" />
<text transform="translate(131.80,1809.25) scale(0.92,1)" font-family='"Liberation Serif", serif' font-size="31.2" font-weight="normal" font-style="normal" text-anchor="end" fill="#111" >300</text>
<line x1="150.10" y1="1847.60" x2="156.60" y2="1847.60" stroke="#000" stroke-width="2.6" />
<text transform="translate(131.80,1863.95) scale(0.92,1)" font-family='"Liberation Serif", serif' font-size="31.2" font-weight="normal" font-style="normal" text-anchor="end" fill="#111" >200</text>
<line x1="150.10" y1="1902.60" x2="156.60" y2="1902.60" stroke="#000" stroke-width="2.6" />
<text transform="translate(131.80,1917.05) scale(0.92,1)" font-family='"Liberation Serif", serif' font-size="31.2" font-weight="normal" font-style="normal" text-anchor="end" fill="#111" >100</text>
<text transform="translate(140.20,1969.25) scale(1.05,1)" font-family='"Liberation Serif", serif' font-size="31.2" font-weight="normal" font-style="normal" text-anchor="end" fill="#111" >0</text>
<line x1="221.30" y1="1957.30" x2="221.30" y2="1964.30" stroke="#000" stroke-width="2.2" />
<line x1="351.20" y1="1957.30" x2="351.20" y2="1964.30" stroke="#000" stroke-width="2.2" />
<line x1="482.00" y1="1957.30" x2="482.00" y2="1964.30" stroke="#000" stroke-width="2.2" />
<text transform="translate(222.80,1994.00) scale(0.92,1)" font-family='"Liberation Serif", serif' font-size="31.2" font-weight="normal" font-style="normal" text-anchor="middle" fill="#111" >8</text>
<text transform="translate(352.80,1994.00) scale(0.92,1)" font-family='"Liberation Serif", serif' font-size="31.2" font-weight="normal" font-style="normal" text-anchor="middle" fill="#111" >12</text>
<text transform="translate(482.40,1994.00) scale(0.92,1)" font-family='"Liberation Serif", serif' font-size="31.2" font-weight="normal" font-style="normal" text-anchor="middle" fill="#111" >16</text>
<text transform="translate(319.00,2025.70) scale(1,0.9)" font-family='"Liberation Serif", serif' font-size="29" font-weight="normal" font-style="normal" text-anchor="start" fill="#111" textLength="77" lengthAdjust="spacingAndGlyphs">weeks</text>
<text transform="translate(24.00,1785.40) rotate(-90)" font-family='"Liberation Serif", serif' font-size="32.5" font-weight="normal" font-style="normal" text-anchor="middle" fill="#111" textLength="302" lengthAdjust="spacingAndGlyphs">Fasting Plasma Glucose</text>
<text transform="translate(62.40,1786.40) rotate(-90)" font-family='"Liberation Serif", serif' font-size="32" font-weight="normal" font-style="normal" text-anchor="middle" fill="#111" textLength="88.5" lengthAdjust="spacingAndGlyphs">(mg/dl)</text>
<path d="M221.20,1729.00 Q280.73,1789.21 351.40,1812.20 Q411.23,1831.66 482.20,1813.90" fill="none" stroke="#000" stroke-width="4.9" stroke-dasharray="13 5" stroke-linecap="butt"/>
<path d="M221.20,1729.00 Q286.28,1755.65 351.40,1782.20 Q416.78,1808.85 482.20,1835.40" fill="none" stroke="#000" stroke-width="4.9" stroke-dasharray="13 5" stroke-linecap="butt"/>
<path d="M221.20,1729.00 Q284.28,1688.53 351.40,1679.40 Q414.78,1670.78 482.20,1693.50" fill="none" stroke="#000" stroke-width="5.4"  stroke-linecap="butt"/>
<path d="M221.20,1906.80 Q286.30,1907.20 351.40,1907.00 Q416.80,1906.80 482.20,1906.00" fill="none" stroke="#000" stroke-width="5.2"  stroke-linecap="butt"/>
<line x1="351.40" y1="1659.00" x2="351.40" y2="1699.60" stroke="#000" stroke-width="1.7" />
<line x1="347.90" y1="1659.00" x2="354.90" y2="1659.00" stroke="#000" stroke-width="1.7" />
<line x1="347.90" y1="1699.60" x2="354.90" y2="1699.60" stroke="#000" stroke-width="1.7" />
<line x1="482.20" y1="1673.80" x2="482.20" y2="1712.20" stroke="#000" stroke-width="1.7" />
<line x1="478.70" y1="1673.80" x2="485.70" y2="1673.80" stroke="#000" stroke-width="1.7" />
<line x1="478.70" y1="1712.20" x2="485.70" y2="1712.20" stroke="#000" stroke-width="1.7" />
<line x1="221.20" y1="1712.20" x2="221.20" y2="1750.00" stroke="#000" stroke-width="1.7" />
<line x1="217.70" y1="1712.20" x2="224.70" y2="1712.20" stroke="#000" stroke-width="1.7" />
<line x1="217.70" y1="1750.00" x2="224.70" y2="1750.00" stroke="#000" stroke-width="1.7" />
<line x1="351.40" y1="1797.00" x2="351.40" y2="1827.00" stroke="#000" stroke-width="1.7" />
<line x1="347.90" y1="1797.00" x2="354.90" y2="1797.00" stroke="#000" stroke-width="1.7" />
<line x1="347.90" y1="1827.00" x2="354.90" y2="1827.00" stroke="#000" stroke-width="1.7" />
<ellipse cx="221.20" cy="1906.80" rx="4.1" ry="6.3" fill="#eeeedd" stroke="#000" stroke-width="2.2"/>
<ellipse cx="351.40" cy="1907.00" rx="4.1" ry="6.3" fill="#eeeedd" stroke="#000" stroke-width="2.2"/>
<ellipse cx="482.20" cy="1906.00" rx="4.1" ry="6.3" fill="#eeeedd" stroke="#000" stroke-width="2.2"/>
<line x1="346.20" y1="1671.90" x2="356.60" y2="1686.90" stroke="#000" stroke-width="1.3" />
<line x1="346.20" y1="1686.90" x2="356.60" y2="1671.90" stroke="#000" stroke-width="1.3" />
<line x1="351.40" y1="1671.90" x2="351.40" y2="1686.90" stroke="#000" stroke-width="1.3" />
<line x1="477.00" y1="1686.00" x2="487.40" y2="1701.00" stroke="#000" stroke-width="1.3" />
<line x1="477.00" y1="1701.00" x2="487.40" y2="1686.00" stroke="#000" stroke-width="1.3" />
<line x1="482.20" y1="1686.00" x2="482.20" y2="1701.00" stroke="#000" stroke-width="1.3" />
<path d="M351.40,1806.90 L356.10,1817.50 L346.70,1817.50 Z" fill="#fff" stroke="#000" stroke-width="1.9"/>
<path d="M482.20,1808.60 L486.90,1819.20 L477.50,1819.20 Z" fill="#fff" stroke="#000" stroke-width="1.9"/>
<rect x="217.00" y="1722.80" width="8.4" height="12.4" fill="#fff" stroke="#000" stroke-width="2.1"/>
<rect x="347.20" y="1776.00" width="8.4" height="12.4" fill="#fff" stroke="#000" stroke-width="2.1"/>
<rect x="478.00" y="1829.20" width="8.4" height="12.4" fill="#fff" stroke="#000" stroke-width="2.1"/>
<line x1="219.80" y1="1693.50" x2="219.80" y2="1704.50" stroke="#111" stroke-width="1.5" />
<line x1="215.04" y1="1696.25" x2="224.56" y2="1701.75" stroke="#111" stroke-width="1.5" />
<line x1="224.56" y1="1696.25" x2="215.04" y2="1701.75" stroke="#111" stroke-width="1.5" />
<line x1="214.85" y1="1699.00" x2="224.75" y2="1699.00" stroke="#111" stroke-width="1.2000000000000002" />
<line x1="351.40" y1="1631.10" x2="351.40" y2="1642.10" stroke="#111" stroke-width="1.5" />
<line x1="346.64" y1="1633.85" x2="356.16" y2="1639.35" stroke="#111" stroke-width="1.5" />
<line x1="356.16" y1="1633.85" x2="346.64" y2="1639.35" stroke="#111" stroke-width="1.5" />
<line x1="346.45" y1="1636.60" x2="356.35" y2="1636.60" stroke="#111" stroke-width="1.2000000000000002" />
<line x1="481.00" y1="1652.10" x2="481.00" y2="1663.10" stroke="#111" stroke-width="1.5" />
<line x1="476.24" y1="1654.85" x2="485.76" y2="1660.35" stroke="#111" stroke-width="1.5" />
<line x1="485.76" y1="1654.85" x2="476.24" y2="1660.35" stroke="#111" stroke-width="1.5" />
<line x1="476.05" y1="1657.60" x2="485.95" y2="1657.60" stroke="#111" stroke-width="1.2000000000000002" />
<line x1="351.40" y1="1758.00" x2="351.40" y2="1769.00" stroke="#111" stroke-width="1.5" />
<line x1="346.64" y1="1760.75" x2="356.16" y2="1766.25" stroke="#111" stroke-width="1.5" />
<line x1="356.16" y1="1760.75" x2="346.64" y2="1766.25" stroke="#111" stroke-width="1.5" />
<line x1="346.45" y1="1763.50" x2="356.35" y2="1763.50" stroke="#111" stroke-width="1.2000000000000002" />
<line x1="481.00" y1="1790.70" x2="481.00" y2="1801.70" stroke="#111" stroke-width="1.5" />
<line x1="476.24" y1="1793.45" x2="485.76" y2="1798.95" stroke="#111" stroke-width="1.5" />
<line x1="485.76" y1="1793.45" x2="476.24" y2="1798.95" stroke="#111" stroke-width="1.5" />
<line x1="476.05" y1="1796.20" x2="485.95" y2="1796.20" stroke="#111" stroke-width="1.2000000000000002" />
<text transform="translate(354.20,1739.74) scale(1.12,1)" font-family='"Liberation Serif", serif' font-size="33" font-weight="normal" font-style="normal" text-anchor="middle" fill="#111" stroke="#111" stroke-width="0.7">§</text>
<text transform="translate(481.60,1777.54) scale(1.12,1)" font-family='"Liberation Serif", serif' font-size="33" font-weight="normal" font-style="normal" text-anchor="middle" fill="#111" stroke="#111" stroke-width="0.7">§</text>
<text transform="translate(663.00,1603.50)" font-family='"Liberation Serif", serif' font-size="51" font-weight="bold" font-style="normal" text-anchor="start" fill="#111" >E</text>
<line x1="825.20" y1="1629.80" x2="825.20" y2="1980.00" stroke="#000" stroke-width="4.9" />
<line x1="823.80" y1="1989.00" x2="823.80" y2="2011.60" stroke="#000" stroke-width="2" />
<line x1="820.80" y1="2011.30" x2="1240.80" y2="2011.30" stroke="#000" stroke-width="6.6" />
<line x1="818.80" y1="1631.00" x2="824.80" y2="1631.00" stroke="#000" stroke-width="2.4" />
<text transform="translate(807.60,1644.25) scale(0.92,1)" font-family='"Liberation Serif", serif' font-size="31.2" font-weight="normal" font-style="normal" text-anchor="end" fill="#111" >14</text>
<line x1="818.80" y1="1688.20" x2="824.80" y2="1688.20" stroke="#000" stroke-width="2.4" />
<text transform="translate(807.60,1699.15) scale(0.92,1)" font-family='"Liberation Serif", serif' font-size="31.2" font-weight="normal" font-style="normal" text-anchor="end" fill="#111" >12</text>
<line x1="818.80" y1="1743.40" x2="824.80" y2="1743.40" stroke="#000" stroke-width="2.4" />
<text transform="translate(807.60,1751.95) scale(0.92,1)" font-family='"Liberation Serif", serif' font-size="31.2" font-weight="normal" font-style="normal" text-anchor="end" fill="#111" >10</text>
<line x1="818.80" y1="1799.20" x2="824.80" y2="1799.20" stroke="#000" stroke-width="2.4" />
<text transform="translate(806.20,1814.35) scale(0.92,1)" font-family='"Liberation Serif", serif' font-size="31.2" font-weight="normal" font-style="normal" text-anchor="end" fill="#111" >8</text>
<line x1="818.80" y1="1854.80" x2="824.80" y2="1854.80" stroke="#000" stroke-width="2.4" />
<text transform="translate(806.20,1870.15) scale(0.92,1)" font-family='"Liberation Serif", serif' font-size="31.2" font-weight="normal" font-style="normal" text-anchor="end" fill="#111" >6</text>
<line x1="818.80" y1="1910.80" x2="824.80" y2="1910.80" stroke="#000" stroke-width="2.4" />
<text transform="translate(806.20,1926.95) scale(0.92,1)" font-family='"Liberation Serif", serif' font-size="31.2" font-weight="normal" font-style="normal" text-anchor="end" fill="#111" >4</text>
<line x1="818.80" y1="1969.30" x2="824.80" y2="1969.30" stroke="#000" stroke-width="2.4" />
<text transform="translate(806.20,1974.35) scale(0.92,1)" font-family='"Liberation Serif", serif' font-size="31.2" font-weight="normal" font-style="normal" text-anchor="end" fill="#111" >2</text>
<line x1="894.20" y1="2011.60" x2="894.20" y2="2021.60" stroke="#000" stroke-width="3.2" />
<line x1="1032.80" y1="2011.60" x2="1032.80" y2="2021.60" stroke="#000" stroke-width="3.2" />
<line x1="1170.40" y1="2011.60" x2="1170.40" y2="2021.60" stroke="#000" stroke-width="3.2" />
<text transform="translate(894.50,2058.00) scale(0.92,1)" font-family='"Liberation Serif", serif' font-size="31.2" font-weight="normal" font-style="normal" text-anchor="middle" fill="#111" >8</text>
<text transform="translate(1034.00,2058.00) scale(0.92,1)" font-family='"Liberation Serif", serif' font-size="31.2" font-weight="normal" font-style="normal" text-anchor="middle" fill="#111" >12</text>
<text transform="translate(1174.00,2058.00) scale(0.92,1)" font-family='"Liberation Serif", serif' font-size="31.2" font-weight="normal" font-style="normal" text-anchor="middle" fill="#111" >16</text>
<text transform="translate(1000.50,2080.40) scale(1,0.9)" font-family='"Liberation Serif", serif' font-size="29" font-weight="normal" font-style="normal" text-anchor="start" fill="#111" textLength="77" lengthAdjust="spacingAndGlyphs">weeks</text>
<text transform="translate(751.60,1786.00) rotate(-90)" font-family='"Liberation Serif", serif' font-size="33" font-weight="normal" font-style="normal" text-anchor="middle" fill="#111" textLength="145" lengthAdjust="spacingAndGlyphs">HbA1c (%)</text>
<path d="M806,1970 L844,1992 L846,2002 L808,1978 Z" fill="#fff"/>
<line x1="808.40" y1="1970.00" x2="841.60" y2="1990.40" stroke="#000" stroke-width="1.8" />
<line x1="810.00" y1="1979.60" x2="843.60" y2="2000.00" stroke="#000" stroke-width="1.8" />
<path d="M894.20,1839.80 Q966.53,1838.37 1032.80,1817.40 Q1104.63,1794.67 1170.40,1752.40" fill="none" stroke="#000" stroke-width="4.9" stroke-dasharray="13 5" stroke-linecap="butt"/>
<path d="M894.20,1852.60 Q962.00,1821.94 1032.80,1802.00 Q1100.10,1783.04 1170.40,1774.80" fill="none" stroke="#000" stroke-width="4.9" stroke-dasharray="13 5" stroke-linecap="butt"/>
<path d="M894.20,1830.80 Q959.56,1778.60 1032.80,1742.80 Q1097.66,1711.10 1170.40,1695.80" fill="none" stroke="#000" stroke-width="5.6"  stroke-linecap="butt"/>
<path d="M894.20,1931.60 Q963.50,1929.85 1032.80,1930.00 Q1101.60,1930.15 1170.40,1932.20" fill="none" stroke="#000" stroke-width="5.2"  stroke-linecap="butt"/>
<line x1="894.20" y1="1822.00" x2="894.20" y2="1878.00" stroke="#000" stroke-width="1.7" />
<line x1="890.70" y1="1822.00" x2="897.70" y2="1822.00" stroke="#000" stroke-width="1.7" />
<line x1="890.70" y1="1878.00" x2="897.70" y2="1878.00" stroke="#000" stroke-width="1.7" />
<line x1="1032.80" y1="1786.00" x2="1032.80" y2="1832.00" stroke="#000" stroke-width="1.7" />
<line x1="1029.30" y1="1786.00" x2="1036.30" y2="1786.00" stroke="#000" stroke-width="1.7" />
<line x1="1029.30" y1="1832.00" x2="1036.30" y2="1832.00" stroke="#000" stroke-width="1.7" />
<line x1="1170.40" y1="1683.00" x2="1170.40" y2="1708.00" stroke="#000" stroke-width="1.7" />
<line x1="1166.90" y1="1683.00" x2="1173.90" y2="1683.00" stroke="#000" stroke-width="1.7" />
<line x1="1166.90" y1="1708.00" x2="1173.90" y2="1708.00" stroke="#000" stroke-width="1.7" />
<ellipse cx="894.20" cy="1931.60" rx="4.1" ry="6.3" fill="#eeeedd" stroke="#000" stroke-width="2.2"/>
<ellipse cx="1032.80" cy="1930.00" rx="4.1" ry="6.3" fill="#eeeedd" stroke="#000" stroke-width="2.2"/>
<ellipse cx="1170.40" cy="1932.20" rx="4.1" ry="6.3" fill="#eeeedd" stroke="#000" stroke-width="2.2"/>
<line x1="889.00" y1="1823.30" x2="899.40" y2="1838.30" stroke="#000" stroke-width="1.3" />
<line x1="889.00" y1="1838.30" x2="899.40" y2="1823.30" stroke="#000" stroke-width="1.3" />
<line x1="894.20" y1="1823.30" x2="894.20" y2="1838.30" stroke="#000" stroke-width="1.3" />
<line x1="1027.60" y1="1735.30" x2="1038.00" y2="1750.30" stroke="#000" stroke-width="1.3" />
<line x1="1027.60" y1="1750.30" x2="1038.00" y2="1735.30" stroke="#000" stroke-width="1.3" />
<line x1="1032.80" y1="1735.30" x2="1032.80" y2="1750.30" stroke="#000" stroke-width="1.3" />
<line x1="1165.20" y1="1688.30" x2="1175.60" y2="1703.30" stroke="#000" stroke-width="1.3" />
<line x1="1165.20" y1="1703.30" x2="1175.60" y2="1688.30" stroke="#000" stroke-width="1.3" />
<line x1="1170.40" y1="1688.30" x2="1170.40" y2="1703.30" stroke="#000" stroke-width="1.3" />
<path d="M1032.80,1812.10 L1037.50,1822.70 L1028.10,1822.70 Z" fill="#fff" stroke="#000" stroke-width="1.9"/>
<path d="M1170.40,1747.10 L1175.10,1757.70 L1165.70,1757.70 Z" fill="#fff" stroke="#000" stroke-width="1.9"/>
<rect x="890.00" y="1846.40" width="8.4" height="12.4" fill="#fff" stroke="#000" stroke-width="2.1"/>
<rect x="1028.60" y="1795.80" width="8.4" height="12.4" fill="#fff" stroke="#000" stroke-width="2.1"/>
<rect x="1166.20" y="1768.60" width="8.4" height="12.4" fill="#fff" stroke="#000" stroke-width="2.1"/>
<line x1="889.80" y1="1800.30" x2="889.80" y2="1811.30" stroke="#111" stroke-width="1.5" />
<line x1="885.04" y1="1803.05" x2="894.56" y2="1808.55" stroke="#111" stroke-width="1.5" />
<line x1="894.56" y1="1803.05" x2="885.04" y2="1808.55" stroke="#111" stroke-width="1.5" />
<line x1="884.85" y1="1805.80" x2="894.75" y2="1805.80" stroke="#111" stroke-width="1.2000000000000002" />
<line x1="1026.40" y1="1716.50" x2="1026.40" y2="1727.50" stroke="#111" stroke-width="1.5" />
<line x1="1021.64" y1="1719.25" x2="1031.16" y2="1724.75" stroke="#111" stroke-width="1.5" />
<line x1="1031.16" y1="1719.25" x2="1021.64" y2="1724.75" stroke="#111" stroke-width="1.5" />
<line x1="1021.45" y1="1722.00" x2="1031.35" y2="1722.00" stroke="#111" stroke-width="1.2000000000000002" />
<line x1="1167.20" y1="1664.30" x2="1167.20" y2="1675.30" stroke="#111" stroke-width="1.5" />
<line x1="1162.44" y1="1667.05" x2="1171.96" y2="1672.55" stroke="#111" stroke-width="1.5" />
<line x1="1171.96" y1="1667.05" x2="1162.44" y2="1672.55" stroke="#111" stroke-width="1.5" />
<line x1="1162.25" y1="1669.80" x2="1172.15" y2="1669.80" stroke="#111" stroke-width="1.2000000000000002" />
<line x1="1029.00" y1="1841.30" x2="1029.00" y2="1852.30" stroke="#111" stroke-width="1.5" />
<line x1="1024.24" y1="1844.05" x2="1033.76" y2="1849.55" stroke="#111" stroke-width="1.5" />
<line x1="1033.76" y1="1844.05" x2="1024.24" y2="1849.55" stroke="#111" stroke-width="1.5" />
<line x1="1024.05" y1="1846.80" x2="1033.95" y2="1846.80" stroke="#111" stroke-width="1.2000000000000002" />
<line x1="1169.80" y1="1795.90" x2="1169.80" y2="1806.90" stroke="#111" stroke-width="1.5" />
<line x1="1165.04" y1="1798.65" x2="1174.56" y2="1804.15" stroke="#111" stroke-width="1.5" />
<line x1="1174.56" y1="1798.65" x2="1165.04" y2="1804.15" stroke="#111" stroke-width="1.5" />
<line x1="1164.85" y1="1801.40" x2="1174.75" y2="1801.40" stroke="#111" stroke-width="1.2000000000000002" />
<text transform="translate(1031.20,1884.74) scale(1.12,1)" font-family='"Liberation Serif", serif' font-size="33" font-weight="normal" font-style="normal" text-anchor="middle" fill="#111" stroke="#111" stroke-width="0.7">§</text>
<text transform="translate(1168.20,1836.74) scale(1.12,1)" font-family='"Liberation Serif", serif' font-size="33" font-weight="normal" font-style="normal" text-anchor="middle" fill="#111" stroke="#111" stroke-width="0.7">§</text>
</svg>
</body></html>
